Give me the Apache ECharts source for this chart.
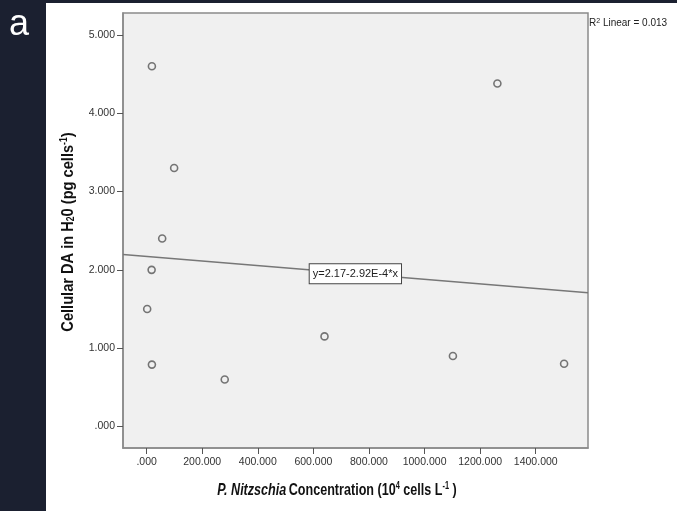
<!DOCTYPE html>
<html>
<head>
<meta charset="utf-8">
<script src="https://cdn.jsdelivr.net/npm/echarts@6/dist/echarts.min.js"></script>
<style>
  html, body { margin: 0; padding: 0; background: #ffffff; }
  #chart { width: 677px; height: 511px; }
</style>
</head>
<body>
<div id="chart"></div>
<script>
// Observations: P. Nitzschia concentration (10^4 cells/L) vs cellular DA (pg/cell)
const concentration = [19, 99, 56, 18, 2, 19, 281, 640, 1102, 1262, 1502];
const cellularDA    = [4.60, 3.30, 2.40, 2.00, 1.50, 0.79, 0.60, 1.15, 0.90, 4.38, 0.80];

// Axis ticks and their printed labels
const xTicks = [0, 200, 400, 600, 800, 1000, 1200, 1400];
const xTickLabels = ['.000', '200.000', '400.000', '600.000', '800.000', '1000.000', '1200.000', '1400.000'];
const yTicks = [0, 1, 2, 3, 4, 5];
const yTickLabels = ['.000', '1.000', '2.000', '3.000', '4.000', '5.000'];

// Axis extents
const xRange = [-85, 1588];
const yRange = [-0.275, 5.28];

// Linear fit summary
const fitIntercept = 2.17;
const fitSlope = -2.92e-4;
const fitText = 'y=2.17-2.92E-4*x';
const fitLabelX = 751;
const rSquaredText = '0.013';

const fitAt = x => fitIntercept + fitSlope * x;
const points = concentration.map((x, i) => [x, cellularDA[i]]);
const fitLine = [[xRange[0], fitAt(xRange[0])], [xRange[1], fitAt(xRange[1])]];

const FONT = 'Liberation Sans, Arial, sans-serif';
const TITLE_SIZE = 17;

const chart = echarts.init(document.getElementById('chart'), null, { renderer: 'canvas' });

// Condensed bold axis titles (drawn as scaled text so they keep a narrow look)
const titleRich = {
  bi: { fontFamily: FONT, fontWeight: 'bold', fontStyle: 'italic', fontSize: TITLE_SIZE, fill: '#111' },
  b: { fontFamily: FONT, fontWeight: 'bold', fontSize: TITLE_SIZE, fill: '#111' },
  sup: { fontFamily: FONT, fontWeight: 'bold', fontSize: 10, fill: '#111', verticalAlign: 'top' },
  sub: { fontFamily: FONT, fontWeight: 'bold', fontSize: 10, fill: '#111', verticalAlign: 'bottom' }
};

chart.setOption({
  animation: false,
  backgroundColor: '#ffffff',
  grid: {
    left: 123, top: 13, right: 89, bottom: 63,
    show: true,
    backgroundColor: '#f0f0f0',
    borderColor: '#8a8a8a',
    borderWidth: 1.5
  },
  xAxis: {
    type: 'value',
    min: xRange[0], max: xRange[1],
    axisLine: { show: true, onZero: false, lineStyle: { color: '#8a8a8a', width: 1.5 } },
    axisTick: { show: true, inside: false, length: 6, customValues: xTicks, lineStyle: { color: '#555', width: 1 } },
    axisLabel: {
      customValues: xTicks,
      formatter: v => xTickLabels[xTicks.indexOf(v)],
      fontFamily: FONT, fontSize: 10.5, color: '#333', margin: 9
    },
    splitLine: { show: false }
  },
  yAxis: {
    type: 'value',
    min: yRange[0], max: yRange[1],
    axisLine: { show: true, onZero: false, lineStyle: { color: '#8a8a8a', width: 1.5 } },
    axisTick: { show: true, inside: false, length: 6, customValues: yTicks, lineStyle: { color: '#555', width: 1 } },
    axisLabel: {
      customValues: yTicks,
      formatter: v => yTickLabels[yTicks.indexOf(v)],
      fontFamily: FONT, fontSize: 10.5, color: '#333', margin: 8
    },
    splitLine: { show: false }
  },
  series: [
    {
      name: 'Fit',
      type: 'line',
      data: fitLine,
      symbol: 'none',
      silent: true,
      lineStyle: { color: '#777', width: 1.5 },
      z: 2,
      markPoint: {
        symbol: 'rect',
        symbolSize: 0,
        silent: true,
        data: [{ coord: [fitLabelX, fitAt(fitLabelX)] }],
        label: {
          show: true,
          position: 'inside',
          formatter: fitText,
          fontFamily: FONT,
          fontSize: 11,
          color: '#222',
          backgroundColor: '#ffffff',
          borderColor: '#444',
          borderWidth: 1,
          padding: [4, 3, 4, 3]
        }
      }
    },
    {
      name: 'Cellular DA',
      type: 'scatter',
      data: points,
      symbol: 'circle',
      symbolSize: 7,
      itemStyle: { color: '#f0f0f0', borderColor: '#555', borderWidth: 1.6 },
      z: 3
    }
  ],
  graphic: [
    { type: 'rect', left: 0, top: 0, shape: { width: 46, height: 511 }, style: { fill: '#1b2030' }, silent: true },
    { type: 'rect', left: 0, top: 0, shape: { width: 677, height: 3 }, style: { fill: '#1b2030' }, silent: true },
    {
      type: 'text', x: 9, y: 7,
      style: { text: 'a', fill: '#ffffff', font: '36px Liberation Sans, Arial, sans-serif', textVerticalAlign: 'top' },
      silent: true
    },
    {
      type: 'text', x: 589, y: 18,
      style: {
        text: '{r|R}{s|2}{r| Linear = ' + rSquaredText + '}',
        rich: {
          r: { fontFamily: FONT, fontSize: 10, fill: '#222' },
          s: { fontFamily: FONT, fontSize: 7, fill: '#222', verticalAlign: 'top' }
        }
      },
      silent: true
    },
    {
      // horizontal axis title
      type: 'text', x: 337, y: 490, scaleX: 0.74,
      style: {
        text: '{bi|P. Nitzschia} {b|Concentration (10}{sup|4}{b| cells L}{sup|-1}{b| )}',
        rich: titleRich,
        textAlign: 'center', textVerticalAlign: 'middle'
      },
      silent: true
    },
    {
      // vertical axis title
      type: 'text', x: 68, y: 232, rotation: Math.PI / 2, scaleX: 0.86,
      style: {
        text: '{b|Cellular DA in H}{sub|2}{b|0 (pg cells}{sup|-1}{b|)}',
        rich: titleRich,
        textAlign: 'center', textVerticalAlign: 'middle'
      },
      silent: true
    }
  ]
});
</script>
</body>
</html>
